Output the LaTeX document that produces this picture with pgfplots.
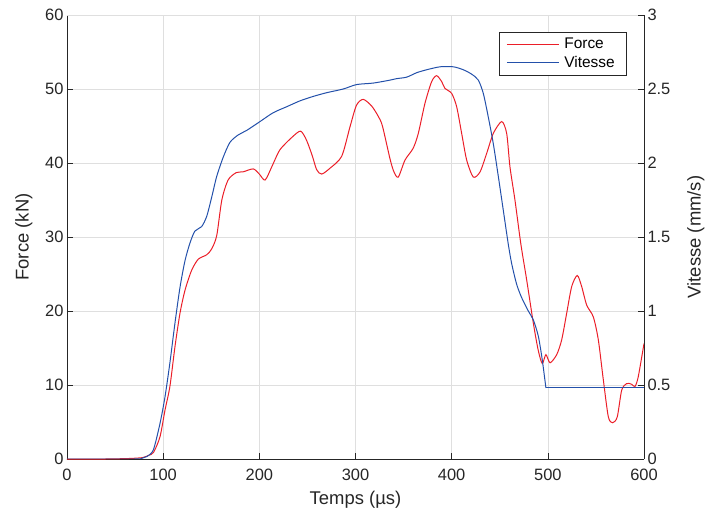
\documentclass[border=0pt]{standalone}
\usepackage{fontspec}
\setmainfont{Liberation Sans}
\usepackage{pgfplots}
\pgfplotsset{compat=1.18}
\definecolor{fred}{RGB}{235,30,40}
\definecolor{vblue}{RGB}{35,80,170}
\definecolor{axgray}{RGB}{38,38,38}
\definecolor{gridgray}{RGB}{223,223,223}
\begin{document}
\begin{tikzpicture}
\pgfplotsset{
  every axis/.append style={
    scale only axis, width=577bp, height=444bp,
    xmin=0, xmax=600,
    font=\fontsize{16.5}{19}\selectfont,
    /pgf/number format/assume math mode=true,
    tick align=inside, major tick length=6bp,
    axis line style={axgray, line width=0.6bp},
    every tick/.style={axgray, line width=0.6bp},
    ticklabel style={text=axgray},
    label style={font=\fontsize{18.5}{22}\selectfont, text=axgray},
  }
}
\begin{axis}[
  axis x line*=bottom, axis y line*=left,
  ymin=0, ymax=60, ytick={0,10,...,60}, xtick={0,100,...,600},
  grid=major, major grid style={gridgray, line width=0.6bp},
  xticklabel style={yshift=-7bp},
  xlabel={Temps (µs)}, ylabel={Force (kN)},
  xlabel style={yshift=-3bp},
  ylabel style={yshift=6bp},
]
\draw[gridgray, line width=0.6bp] (rel axis cs:0,1) -- (rel axis cs:1,1);
\addplot[fred, line width=1bp, smooth, tension=0.45] coordinates {
(0,0)(40,0)(60,0.05)(70,0.1)(79,0.2)(85,0.5)(90,0.9)(96.7,3)(101.9,6.6)(107,9.8)(112.3,15.2)(117.5,19.7)(122.7,22.8)(129.6,25.5)(136.5,27)(145.3,27.6)(150.5,28.4)(155.7,30.2)(161,35)(167.5,37.7)(176,38.7)(183,38.8)(193.7,39.2)(200,38.5)(206,37.7)(213,39.5)(221.5,41.8)(235,43.6)(243,44.3)(249,43.1)(255,41)(259.6,39.1)(264.8,38.5)(273.5,39.3)(285.6,40.9)(294.3,44.9)(301,47.8)(308,48.6)(316.8,47.7)(323.7,46.3)(328,45)(336,40.5)(340,38.8)(344.5,38.1)(351.5,40.4)(360,42)(365.3,44)(372.3,48.1)(379.2,51)(384.4,51.8)(389.6,51)(393,50.1)(400,49.4)(405.2,47.6)(410.4,44)(415.6,40.4)(422.5,38.1)(429.5,38.8)(436.4,41.3)(443.3,44)(452,45.6)(457.2,44)(460.6,39.5)(465.8,35)(472,29)(478,24.2)(485,18.3)(490,14.7)(494.2,12.9)(498,14.1)(502.3,13)(509.2,14.1)(514.4,16.1)(519.6,19.7)(524.8,23.3)(530.6,24.8)(535.2,23.3)(540.4,20.8)(547.3,19.2)(552.5,16.1)(557.7,10.7)(562.9,5.7)(567.4,4.9)(572.2,5.7)(576.8,9.3)(582,10.2)(587.2,10.1)(590.6,9.8)(594,11.1)(600,15.6)
};
\end{axis}
\begin{axis}[
  axis x line=none, axis y line*=right,
  ymin=0, ymax=3, ytick={0,0.5,1,1.5,2,2.5,3},
  ylabel={Vitesse (mm/s)},
  ylabel style={yshift=-10bp},
  legend style={at={(rel axis cs:1,1)}, anchor=north east, xshift=-17bp, yshift=-17bp,
    draw=axgray, line width=0.6bp, font=\fontsize{15.5}{18}\selectfont, fill=white,
    inner xsep=7bp, inner ysep=4bp, row sep=2bp,
    nodes={inner xsep=5bp}},
  legend cell align=left,
  legend image code/.code={\draw[#1] (0bp,0bp) -- (52bp,0bp);},
]
\addlegendimage{fred, line width=1bp}
\addlegendentry{Force}
\addplot[vblue, line width=1bp, smooth, tension=0.45] coordinates {
(0,0)(70,0)(78,0.005)(82.8,0.016)(89.7,0.06)(96.7,0.24)(101.9,0.42)(107,0.65)(112.3,0.92)(117.5,1.16)(122.7,1.34)(127.9,1.46)(133,1.54)(140,1.57)(145.3,1.64)(150.5,1.77)(155.7,1.91)(162.5,2.04)(169.5,2.14)(178.1,2.19)(186.8,2.22)(200.7,2.28)(214.5,2.34)(228.4,2.38)(242.3,2.42)(256.1,2.45)(270,2.475)(287.3,2.50)(301.2,2.53)(318.5,2.54)(335.9,2.56)(342.8,2.57)(353.2,2.58)(363.6,2.61)(374,2.63)(387.9,2.65)(401.7,2.65)(412.1,2.63)(420.8,2.60)(427.7,2.56)(432.9,2.47)(438.1,2.31)(443.3,2.13)(448.5,1.91)(453.7,1.68)(458.9,1.45)(462.4,1.32)(467.6,1.18)(472.8,1.09)(479.7,1.00)(484.9,0.94)(490.1,0.83)(494.2,0.67)(498,0.48)
};
\addlegendentry{Vitesse}
\addplot[vblue, line width=1bp, forget plot] coordinates {(498,0.48)(600,0.48)};
\end{axis}
\pgfresetboundingbox
\path (-67bp,-54bp) rectangle (639bp,459bp);
\end{tikzpicture}
\end{document}
